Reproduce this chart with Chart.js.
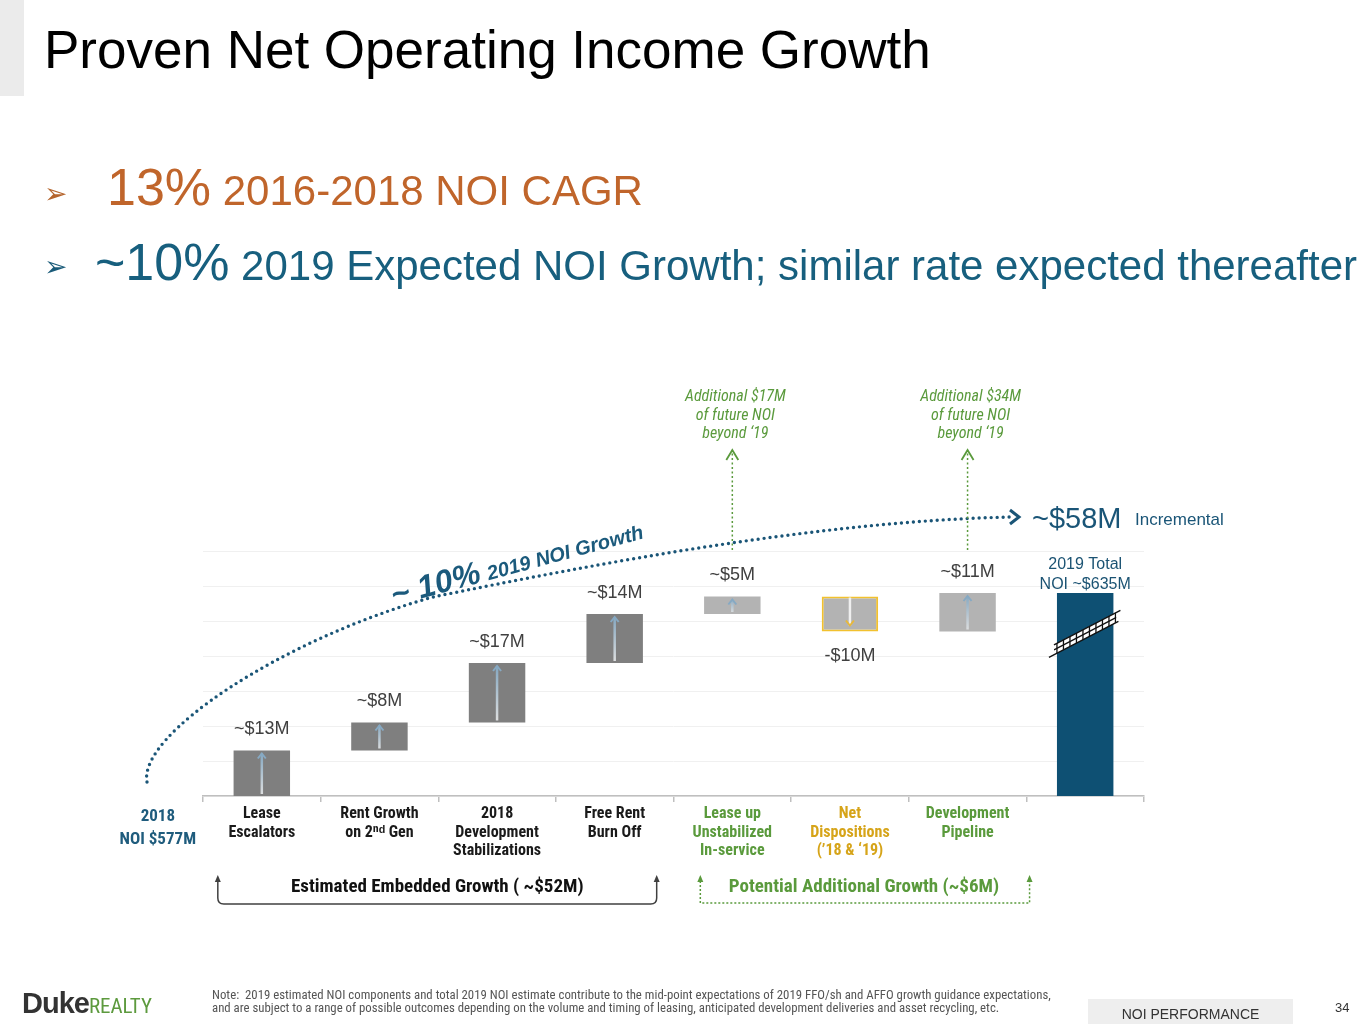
<!DOCTYPE html>
<html>
<head>
<meta charset="utf-8">
<script src="https://cdn.jsdelivr.net/npm/chart.js@4.4.1/dist/chart.umd.min.js"></script>
<style>
  html, body { margin: 0; padding: 0; background: #fff; }
  body { width: 1365px; height: 1024px; position: relative; overflow: hidden; font-family: "Liberation Sans", Arial, sans-serif; }
  #chart { position: absolute; left: 0; top: 0; }
  .abs { position: absolute; white-space: nowrap; line-height: 1; }
  .narrow { font-family: "Liberation Sans Narrow", "Arial Narrow", "Roboto Condensed", sans-serif; }
</style>
</head>
<body>
<canvas id="chart" width="1365" height="1024"></canvas>

<div class="abs" style="left:0;top:0;width:24px;height:96px;background:#ebebeb;"></div>
<div class="abs" style="left:44px;top:23px;font-size:53px;color:#000;">Proven Net Operating Income Growth</div>

<div class="abs" style="left:44px;top:180px;font-size:28px;color:#b5652d;font-family:'DejaVu Sans',sans-serif;">&#10146;</div>
<div class="abs" style="left:107px;top:161px;font-size:52px;color:#c0652b;">13%<span style="font-size:42px;"> 2016-2018 NOI CAGR</span></div>

<div class="abs" style="left:44px;top:253px;font-size:28px;color:#1a5b79;font-family:'DejaVu Sans',sans-serif;">&#10146;</div>
<div class="abs" style="left:95px;top:236px;font-size:52px;color:#175f7e;">~10%<span style="font-size:42px;"> 2019 Expected NOI Growth; similar rate expected thereafter</span></div>

<div class="abs" style="left:22px;top:989px;font-size:29px;font-weight:bold;color:#333;letter-spacing:-1px;">Duke<span class="narrow" style="font-size:21px;font-weight:normal;color:#5d9a3e;letter-spacing:0;">REALTY</span></div>
<div class="abs narrow" style="left:212px;top:988px;font-size:12.8px;color:#555;line-height:13px;">Note:&nbsp; 2019 estimated NOI components and total 2019 NOI estimate contribute to the mid-point expectations of 2019 FFO/sh and AFFO growth guidance expectations,<br>and are subject to a range of possible outcomes depending on the volume and timing of leasing, anticipated development deliveries and asset recycling, etc.</div>
<div class="abs" style="left:1088px;top:999px;width:205px;height:25px;background:#eeeeee;"></div>
<div class="abs" style="left:1088px;top:1007px;width:205px;text-align:center;font-size:14px;color:#333;">NOI PERFORMANCE</div>
<div class="abs" style="left:1335px;top:1001px;font-size:13px;color:#333;">34</div>

<script>
// categories along the axis (the 2018 starting point sits left of the axis)
const categories = [
  ['Lease', 'Escalators'],
  ['Rent Growth', 'on 2ⁿᵈ Gen'],
  ['2018', 'Development', 'Stabilizations'],
  ['Free Rent', 'Burn Off'],
  ['Lease up', 'Unstabilized', 'In-service'],
  ['Net', 'Dispositions', '(’18 & ‘19)'],
  ['Development', 'Pipeline'],
  ''
];
const startNOI = 577;           // 2018 NOI, $M
const steps = [13, 8, 17, 14, 5, -10, 11];   // $M change per component
const totalNOI = 635;           // 2019 total, $M
const valueLabels = ['~$13M', '~$8M', '~$17M', '~$14M', '~$5M', '-$10M', '~$11M'];
const labelColors = ['#1a1a1a', '#1a1a1a', '#1a1a1a', '#1a1a1a', '#5a9a3c', '#d6a419', '#5a9a3c', '#000'];
const barColors = ['#7f7f7f', '#7f7f7f', '#7f7f7f', '#7f7f7f', '#b3b3b3', '#b3b3b3', '#b3b3b3', '#0e5073'];
const futureNotes = [
  { index: 4, lines: ['Additional $17M', 'of future NOI', 'beyond ‘19'] },
  { index: 6, lines: ['Additional $34M', 'of future NOI', 'beyond ‘19'] }
];

// floating bars for the waterfall
let run = startNOI;
const bars = steps.map(function(d) {
  const b = [run, run + d];
  run += d;
  return b;
});
bars.push([startNOI, totalNOI]);

const NARROW = '"Liberation Sans Narrow", "Arial Narrow", "Roboto Condensed", sans-serif';
const ARIAL = '"Liberation Sans", Arial, sans-serif';
const TEAL = '#1a5577';
const GREEN = '#5a9a3c';

function arrowHead(ctx, x, y, dir, w, h) {
  ctx.beginPath();
  ctx.moveTo(x - w, y + dir * h);
  ctx.lineTo(x, y);
  ctx.lineTo(x + w, y + dir * h);
  ctx.stroke();
}

const decorations = {
  id: 'decorations',
  afterDatasetsDraw: function(chart) {
    const ctx = chart.ctx;
    const xs = chart.scales.x;
    const meta = chart.getDatasetMeta(0);
    ctx.save();

    // arrows inside the change bars
    meta.data.forEach(function(bar, i) {
      if (i >= steps.length) return;
      const top = Math.min(bar.y, bar.base), bot = Math.max(bar.y, bar.base);
      if (steps[i] > 0) {
        const g = ctx.createLinearGradient(0, bot, 0, top);
        g.addColorStop(0, '#e0e0e0');
        g.addColorStop(1, '#7fa4bf');
        ctx.strokeStyle = g;
        ctx.lineWidth = 2.5;
        ctx.beginPath();
        ctx.moveTo(bar.x, bot - 2);
        ctx.lineTo(bar.x, top + 3);
        ctx.stroke();
        ctx.lineWidth = 2;
        ctx.strokeStyle = '#86a9c3';
        arrowHead(ctx, bar.x, top + 3, 1, 4, 5);
      } else {
        ctx.strokeStyle = '#efefef';
        ctx.lineWidth = 2.5;
        ctx.beginPath();
        ctx.moveTo(bar.x, top + 1);
        ctx.lineTo(bar.x, bot - 6);
        ctx.stroke();
        ctx.strokeStyle = '#e8b83a';
        ctx.lineWidth = 2;
        arrowHead(ctx, bar.x, bot - 6, -1, 4, 5);
      }
    });

    // value labels
    ctx.fillStyle = '#404040';
    ctx.font = '18px ' + ARIAL;
    ctx.textAlign = 'center';
    ctx.textBaseline = 'middle';
    meta.data.forEach(function(bar, i) {
      if (i >= valueLabels.length) return;
      const top = Math.min(bar.y, bar.base), bot = Math.max(bar.y, bar.base);
      if (steps[i] > 0) ctx.fillText(valueLabels[i], bar.x, top - 21);
      else ctx.fillText(valueLabels[i], bar.x, bot + 25);
    });

    // total bar label and axis-break band
    const tb = meta.data[steps.length];
    ctx.fillStyle = '#1b5373';
    ctx.font = '16px ' + ARIAL;
    ctx.fillText('2019 Total', tb.x, tb.y - 28);
    ctx.fillText('NOI ~$635M', tb.x, tb.y - 8);
    const cy = tb.y + (tb.base - tb.y) * 0.2;
    const half = tb.width / 2 + 3;
    const slope = -0.52, th = 5;
    ctx.save();
    ctx.beginPath();
    ctx.moveTo(tb.x - half, cy - slope * half - th);
    ctx.lineTo(tb.x + half, cy + slope * half - th);
    ctx.lineTo(tb.x + half, cy + slope * half + th);
    ctx.lineTo(tb.x - half, cy - slope * half + th);
    ctx.closePath();
    ctx.fillStyle = '#fff';
    ctx.fill();
    ctx.clip();
    ctx.strokeStyle = '#111';
    ctx.lineWidth = 1.3;
    for (let k = -half + 3; k < half; k += 6.5) {
      ctx.beginPath();
      ctx.moveTo(tb.x + k, cy + slope * k - th - 1);
      ctx.lineTo(tb.x + k, cy + slope * k + th + 1);
      ctx.stroke();
    }
    ctx.beginPath();
    ctx.moveTo(tb.x - half, cy - slope * half);
    ctx.lineTo(tb.x + half, cy + slope * half);
    ctx.stroke();
    ctx.restore();
    ctx.strokeStyle = '#111';
    ctx.lineWidth = 1.4;
    ctx.beginPath();
    ctx.moveTo(tb.x - half - 5, cy - slope * (half + 5) + th);
    ctx.lineTo(tb.x + half + 2, cy + slope * (half + 2) + th);
    ctx.moveTo(tb.x - half, cy - slope * half - th);
    ctx.lineTo(tb.x + half + 4, cy + slope * (half + 4) - th);
    ctx.stroke();

    // 2018 starting label left of the axis
    ctx.fillStyle = '#1f5c7d';
    ctx.font = 'bold 17px ' + NARROW;
    const x0 = xs.getPixelForValue(0) - 104;
    ctx.fillText('2018', x0, 817);
    ctx.fillText('NOI $577M', x0, 840);

    // dotted growth curve
    ctx.strokeStyle = TEAL;
    ctx.lineWidth = 3.4;
    ctx.lineCap = 'round';
    ctx.setLineDash([0, 6]);
    ctx.beginPath();
    ctx.moveTo(147, 782);
    ctx.bezierCurveTo(138, 735, 280, 640, 433, 597);
    ctx.bezierCurveTo(600, 563, 820, 521, 1012, 517);
    ctx.stroke();
    ctx.setLineDash([]);
    ctx.lineWidth = 3;
    ctx.lineCap = 'butt';
    ctx.beginPath();
    ctx.moveTo(1010, 510);
    ctx.lineTo(1019, 517);
    ctx.lineTo(1010, 524);
    ctx.stroke();

    // rotated growth label
    ctx.save();
    ctx.translate(394, 606);
    ctx.rotate(-0.265);
    ctx.fillStyle = '#1b5a7c';
    ctx.textAlign = 'left';
    ctx.textBaseline = 'alphabetic';
    ctx.font = 'italic bold 32px ' + ARIAL;
    ctx.fillText('~ 10%', 0, 0);
    const w1 = ctx.measureText('~ 10% ').width;
    ctx.font = 'italic bold 20px ' + ARIAL;
    ctx.fillText('2019 NOI Growth', w1 - 2, 0);
    ctx.restore();

    // ~$58M incremental
    ctx.textAlign = 'left';
    ctx.textBaseline = 'middle';
    ctx.fillStyle = TEAL;
    ctx.font = '29px ' + ARIAL;
    ctx.fillText('~$58M', 1032, 520);
    ctx.font = '17px ' + ARIAL;
    ctx.fillText('Incremental', 1135, 520);

    // future NOI notes with dotted green arrows
    futureNotes.forEach(function(n) {
      const bx = meta.data[n.index].x;
      ctx.strokeStyle = GREEN;
      ctx.lineWidth = 1.5;
      ctx.setLineDash([2, 2.5]);
      ctx.beginPath();
      ctx.moveTo(bx, 550);
      ctx.lineTo(bx, 453);
      ctx.stroke();
      ctx.setLineDash([]);
      ctx.lineWidth = 1.8;
      arrowHead(ctx, bx, 450, 1, 6, 10);
      ctx.fillStyle = GREEN;
      ctx.font = 'italic 16px ' + NARROW;
      ctx.textAlign = 'center';
      n.lines.forEach(function(t, k) {
        ctx.fillText(t, bx + 3, 397 + k * 18.5);
      });
    });

    // embedded growth bracket
    const l1 = xs.getPixelForValue(0) - 44, r1 = xs.getPixelForValue(3) + 42;
    ctx.strokeStyle = '#404040';
    ctx.lineWidth = 1.5;
    ctx.beginPath();
    ctx.moveTo(l1, 880);
    ctx.lineTo(l1, 898);
    ctx.quadraticCurveTo(l1, 904, l1 + 6, 904);
    ctx.lineTo(r1 - 6, 904);
    ctx.quadraticCurveTo(r1, 904, r1, 898);
    ctx.lineTo(r1, 880);
    ctx.stroke();
    ctx.fillStyle = '#404040';
    [l1, r1].forEach(function(x) {
      ctx.beginPath();
      ctx.moveTo(x - 3, 882);
      ctx.lineTo(x, 875);
      ctx.lineTo(x + 3, 882);
      ctx.fill();
    });
    ctx.fillStyle = '#111';
    ctx.font = 'bold 19px ' + NARROW;
    ctx.textAlign = 'center';
    ctx.fillText('Estimated Embedded Growth ( ~$52M)', (l1 + r1) / 2, 887);

    // potential growth bracket
    const l2 = xs.getPixelForValue(4) - 32, r2 = xs.getPixelForValue(6) + 62;
    ctx.strokeStyle = GREEN;
    ctx.lineWidth = 1.5;
    ctx.setLineDash([2, 2]);
    ctx.beginPath();
    ctx.moveTo(l2, 881);
    ctx.lineTo(l2, 903);
    ctx.lineTo(r2, 903);
    ctx.lineTo(r2, 881);
    ctx.stroke();
    ctx.setLineDash([]);
    ctx.fillStyle = GREEN;
    [l2, r2].forEach(function(x) {
      ctx.beginPath();
      ctx.moveTo(x - 3, 882);
      ctx.lineTo(x, 875);
      ctx.lineTo(x + 3, 882);
      ctx.fill();
    });
    ctx.font = 'bold 19px ' + NARROW;
    ctx.fillText('Potential Additional Growth (~$6M)', (l2 + r2) / 2 - 1, 887);

    ctx.restore();
  }
};

Chart.defaults.font.family = ARIAL;

new Chart(document.getElementById('chart'), {
  type: 'bar',
  data: {
    labels: categories,
    datasets: [{
      data: bars,
      backgroundColor: barColors,
      borderColor: barColors.map(function(c, i) { return steps[i] < 0 ? '#f2c12e' : c; }),
      borderWidth: barColors.map(function(c, i) { return steps[i] < 0 ? 2 : 0; }),
      borderSkipped: false,
      barPercentage: 0.48,
      categoryPercentage: 1
    }]
  },
  options: {
    responsive: false,
    animation: false,
    layout: { padding: { left: 203, right: 221, top: 551, bottom: 0 } },
    plugins: { legend: { display: false }, tooltip: { enabled: false } },
    scales: {
      x: {
        afterFit: function(s) { s.height = 228; },
        border: { color: '#bfbfbf', width: 1.5 },
        grid: { display: true, drawOnChartArea: false, offset: true, tickLength: 6, color: '#bfbfbf', lineWidth: 1.5 },
        ticks: {
          padding: 3,
          maxRotation: 0,
          autoSkip: false,
          color: function(c) { return labelColors[c.index]; },
          font: { family: NARROW, size: 16, weight: 'bold', lineHeight: 1.15 }
        }
      },
      y: {
        min: startNOI,
        max: startNOI + 70,
        afterFit: function(s) { s.width = 0; },
        afterBuildTicks: function(s) {
          const t = [];
          for (let v = startNOI; v <= startNOI + 70; v += 10) t.push({ value: v });
          s.ticks = t;
        },
        border: { display: false },
        grid: { color: '#f0f0f0', drawTicks: false },
        ticks: { display: false }
      }
    }
  },
  plugins: [decorations]
});
</script>
</body>
</html>
